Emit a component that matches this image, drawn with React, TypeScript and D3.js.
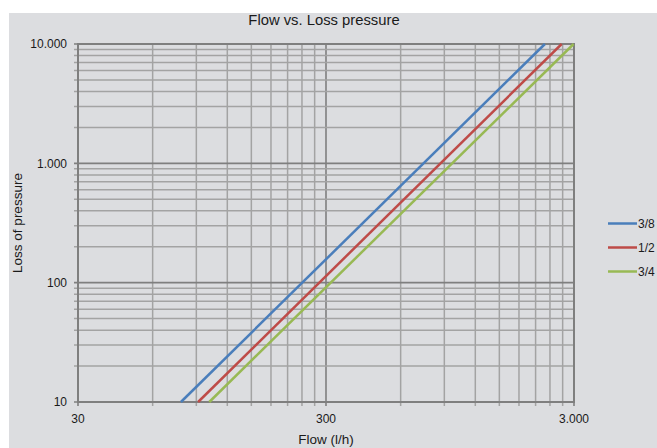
import React from "react";
import * as d3 from "d3";

const W = 657;
const H = 448;

// Data
const seriesNames = ["3/8", "1/2", "3/4"];
const seriesColors = ["#4A7EBB", "#BE4B48", "#98B954"];
const pressure = [10, 10000];
const flow38 = [78, 2290];
const flow12 = [91.5, 2676];
const flow34 = [101.5, 2990];
const flows = [flow38, flow12, flow34];

const xTickValues = [30, 300, 3000];
const xTickLabels = ["30", "300", "3.000"];
const yTickValues = [10, 100, 1000, 10000];
const yTickLabels = ["10", "100", "1.000", "10.000"];

const title = "Flow vs. Loss pressure";
const xTitle = "Flow (l/h)";
const yTitle = "Loss of pressure";

const font = "'Liberation Sans', Arial, sans-serif";

export default function App() {
  const left = 78, right = 574, top = 44, bottom = 402;
  const x = d3.scaleLog().domain([30, 3000]).range([left, right]);
  const y = d3.scaleLog().domain([10, 10000]).range([bottom, top]);

  const xGrid: number[] = [];
  [30, 300].forEach((d) => { for (let k = 1; k <= 9; k++) xGrid.push(d * k); });
  xGrid.push(3000);
  const yGrid: number[] = [];
  [10, 100, 1000].forEach((d) => { for (let k = 1; k <= 9; k++) yGrid.push(d * k); });
  yGrid.push(10000);

  const line = d3.line<[number, number]>().x((d) => x(d[0])).y((d) => y(d[1]));

  return (
    <svg width={W} height={H} style={{ position: "absolute", left: 0, top: 0 }} fontFamily={font}>
      <rect x={0} y={0} width={W} height={H} fill="#ffffff" />
      <rect x={9} y={13} width={W - 9} height={H - 13} fill="#DCDDE0" />
      <text x={324} y={25} textAnchor="middle" fontSize={14.8} fill="#1a1a1a">{title}</text>

      {/* grid */}
      {xGrid.map((v, i) => (
        <line key={"xg" + i} x1={x(v)} x2={x(v)} y1={top} y2={bottom + 4}
          stroke={xTickValues.includes(v) ? "#7F7F7F" : "#A3A3A3"} strokeWidth={xTickValues.includes(v) ? 1.6 : 1.5} />
      ))}
      {yGrid.map((v, i) => (
        <line key={"yg" + i} x1={left - 4} x2={right} y1={y(v)} y2={y(v)}
          stroke={yTickValues.includes(v) ? "#7F7F7F" : "#A3A3A3"} strokeWidth={yTickValues.includes(v) ? 1.6 : 1.5} />
      ))}
      <rect x={left} y={top} width={right - left} height={bottom - top} fill="none" stroke="#7F7F7F" strokeWidth={2} />

      {/* series */}
      {flows.map((f, i) => (
        <path key={"s" + i} d={line(f.map((q, j) => [q, pressure[j]] as [number, number])) || ""}
          fill="none" stroke={seriesColors[i]} strokeWidth={2.5} />
      ))}

      {/* tick labels */}
      {yTickValues.map((v, i) => (
        <text key={"yl" + i} x={67} y={y(v)} dy="0.35em" textAnchor="end" fontSize={12} fill="#1a1a1a">{yTickLabels[i]}</text>
      ))}
      {xTickValues.map((v, i) => (
        <text key={"xl" + i} x={x(v)} y={419} dy="0.35em" textAnchor="middle" fontSize={12} fill="#1a1a1a">{xTickLabels[i]}</text>
      ))}

      <text x={326} y={439} dy="0.35em" textAnchor="middle" fontSize={13.5} fill="#1a1a1a">{xTitle}</text>
      <text transform="translate(17,223) rotate(-90)" dy="0.35em" textAnchor="middle" fontSize={13.5} fill="#1a1a1a">{yTitle}</text>

      {/* legend */}
      {seriesNames.map((n, i) => (
        <g key={"lg" + i} transform={`translate(0,${223.5 + i * 24})`}>
          <line x1={608} x2={637} y1={0} y2={0} stroke={seriesColors[i]} strokeWidth={2.5} />
          <text x={638} y={0} dy="0.35em" fontSize={12} fill="#1a1a1a">{n}</text>
        </g>
      ))}
    </svg>
  );
}
